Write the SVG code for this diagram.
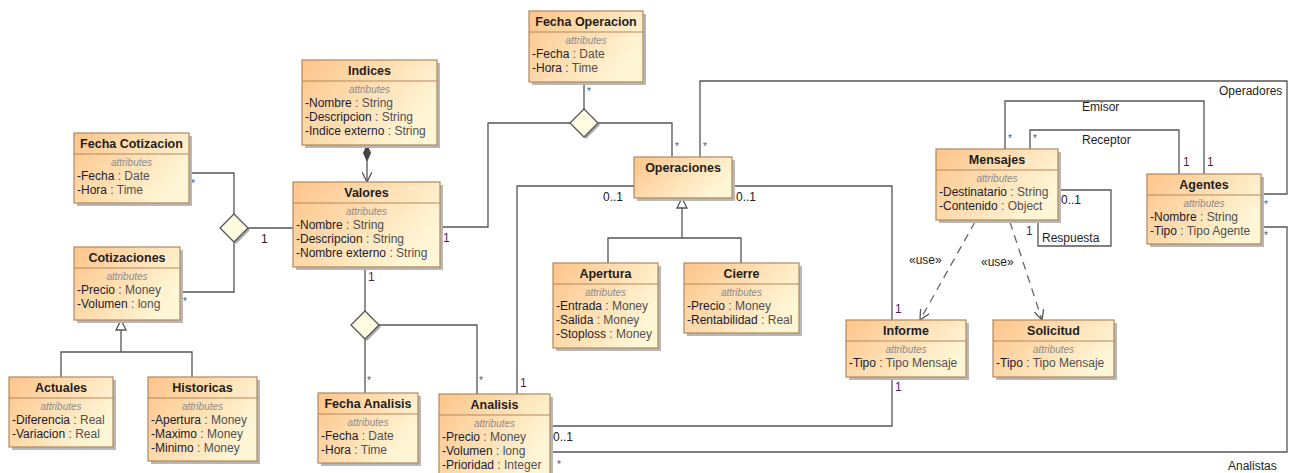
<svg xmlns="http://www.w3.org/2000/svg" width="1291" height="473" viewBox="0 0 1291 473">
  <defs>
    <linearGradient id="fill" x1="0" y1="0" x2="1" y2="0.5">
      <stop offset="0" stop-color="#fdc48a"/>
      <stop offset="1" stop-color="#fff6d6"/>
    </linearGradient>
    <marker id="open" viewBox="0 0 10 10" refX="10" refY="5" markerWidth="10" markerHeight="10" markerUnits="userSpaceOnUse" orient="auto">
      <path d="M0,0 L10,5 L0,10" fill="none" stroke="#555" stroke-width="1.3"/>
    </marker>
  </defs>
  <style>
    .bg { fill: #ffffff; }
    .shadow { fill: #b8b8b8; }
    .box { fill: url(#fill); stroke: #b3875c; stroke-width: 1.2; }
    .sep { stroke: #b3875c; stroke-width: 1.2; }
    .t { font-family: "Liberation Sans", Arial, sans-serif; font-size: 12.5px; font-weight: bold; fill: #1e1e1e; text-anchor: middle; }
    .st { font-family: "Liberation Sans", Arial, sans-serif; font-size: 10px; font-style: italic; fill: #8c8c8c; text-anchor: middle; }
    .a { font-family: "Liberation Sans", Arial, sans-serif; font-size: 12px; fill: #1c1c30; }
    .ty { fill: #505050; }
    .ln { fill: none; stroke: #555; stroke-width: 1.3; }
    .dash { fill: none; stroke: #666; stroke-width: 1.3; stroke-dasharray: 8 6; }
    .dia { fill: #fffbe0; stroke: #555; stroke-width: 1.3; }
    .dsh { fill: #aaaaaa; }
    .gen { fill: #ffffff; stroke: #555; stroke-width: 1.3; }
    .m { font-family: "Liberation Sans", Arial, sans-serif; font-size: 12px; fill: #222; }
    .mp { font-family: "Liberation Sans", Arial, sans-serif; font-size: 12px; fill: #5a1a5a; }
    .star { font-family: "Liberation Sans", Arial, sans-serif; font-size: 10px; fill: #3a5a8a; }
    .r { font-family: "Liberation Sans", Arial, sans-serif; font-size: 12px; fill: #1e1e1e; }
  </style>
  <rect class="bg" x="0" y="0" width="1291" height="473"/>

  <!-- connectors -->
  <g id="connectors">
    <!-- Cotizacion n-ary association -->
    <polyline class="ln" points="189,173 234,173 234,214"/>
    <polyline class="ln" points="180,292 234,292 234,242"/>
    <line class="ln" x1="248" y1="228" x2="293" y2="228"/>
    <polygon class="dsh" points="236,216 250,230 236,244 222,230"/>
    <polygon class="dia" points="234,214 248,228 234,242 220,228"/>
    <text class="star" x="191" y="187">*</text>
    <text class="star" x="183" y="305">*</text>
    <text class="m" x="261" y="243">1</text>

    <!-- Cotizaciones generalization -->
    <polyline class="ln" points="61,377 61,352 192,352 192,377"/>
    <line class="ln" x1="121" y1="352" x2="121" y2="330"/>
    <polygon class="gen" points="121,320 126,330 116,330"/>

    <!-- Indices composition Valores -->
    <polygon points="367,145 370.5,153 367,161 363.5,153" fill="#444" stroke="#444" stroke-width="1"/>
    <line class="ln" x1="367" y1="161" x2="367" y2="182" marker-end="url(#open)"/>

    <!-- Operacion n-ary association -->
    <polyline class="ln" points="440,227 488,227 488,123 570,123"/>
    <polyline class="ln" points="598,123 672,123 672,157"/>
    <line class="ln" x1="584" y1="82" x2="584" y2="109"/>
    <polygon class="dsh" points="586,111 600,125 586,139 572,125"/>
    <polygon class="dia" points="584,109 598,123 584,137 570,123"/>
    <text class="mp" x="443" y="242">1</text>
    <text class="star" x="587" y="95">*</text>
    <text class="star" x="675" y="150">*</text>
    <text class="star" x="703" y="150">*</text>

    <!-- Analisis n-ary association -->
    <line class="ln" x1="365" y1="267" x2="365" y2="311"/>
    <line class="ln" x1="365" y1="339" x2="365" y2="393"/>
    <polyline class="ln" points="379,325 477,325 477,394"/>
    <polygon class="dsh" points="367,313 381,327 367,341 353,327"/>
    <polygon class="dia" points="365,311 379,325 365,339 351,325"/>
    <text class="mp" x="368" y="281">1</text>
    <text class="star" x="367" y="384">*</text>
    <text class="star" x="479" y="384">*</text>

    <!-- Operaciones to Analisis / Informe -->
    <polyline class="ln" points="634,186 517,186 517,394"/>
    <polyline class="ln" points="732,186 892,186 892,320"/>
    <text class="m" x="603" y="201">0..1</text>
    <text class="m" x="736" y="201">0..1</text>
    <text class="mp" x="520" y="387">1</text>
    <text class="mp" x="895" y="313">1</text>

    <!-- Operaciones generalization -->
    <polyline class="ln" points="608,263 608,238 741,238 741,263"/>
    <line class="ln" x1="682" y1="238" x2="682" y2="208"/>
    <polygon class="gen" points="682,198 687,208 677,208"/>

    <!-- Informe to Analisis -->
    <polyline class="ln" points="892,377 892,426 550,426"/>
    <text class="mp" x="895" y="391">1</text>
    <text class="m" x="553" y="441">0..1</text>

    <!-- Operadores -->
    <polyline class="ln" points="700,157 700,81 1287,81 1287,194 1261,194"/>
    <text class="r" x="1219" y="95">Operadores</text>
    <text class="star" x="1264" y="208">*</text>

    <!-- Analistas -->
    <polyline class="ln" points="550,452 1287,452 1287,227 1261,227"/>
    <text class="r" x="1228" y="470">Analistas</text>
    <text class="star" x="557" y="468">*</text>
    <text class="star" x="1264" y="239">*</text>

    <!-- Emisor / Receptor -->
    <polyline class="ln" points="1005,149 1005,101 1204,101 1204,174"/>
    <polyline class="ln" points="1030,149 1030,130 1179,130 1179,174"/>
    <text class="r" x="1082" y="111">Emisor</text>
    <text class="r" x="1082" y="144">Receptor</text>
    <text class="star" x="1008" y="142">*</text>
    <text class="star" x="1033" y="142">*</text>
    <text class="mp" x="1183" y="166">1</text>
    <text class="mp" x="1207" y="166">1</text>

    <!-- Respuesta self association -->
    <polyline class="ln" points="1058,190 1111,190 1111,246 1038,246 1038,220"/>
    <text class="m" x="1061" y="204">0..1</text>
    <text class="mp" x="1026" y="235">1</text>
    <text class="r" x="1042" y="242">Respuesta</text>

    <!-- use dependencies -->
    <line class="dash" x1="975" y1="222" x2="920" y2="320" marker-end="url(#open)"/>
    <line class="dash" x1="1010" y1="222" x2="1042" y2="320" marker-end="url(#open)"/>
    <text class="r" x="909" y="264">«use»</text>
    <text class="r" x="981" y="266">«use»</text>
  </g>

  <!-- classes -->
  <g id="fecha-cotizacion">
    <rect class="shadow" x="77" y="136" width="115" height="70"/>
    <rect class="box" x="74" y="133" width="115" height="70"/>
    <line class="sep" x1="74" y1="154" x2="189" y2="154"/>
    <text class="t" x="131.5" y="148">Fecha Cotizacion</text>
    <text class="st" x="131.5" y="166">attributes</text>
    <text class="a" x="77" y="180">-Fecha <tspan class="ty">: Date</tspan></text>
    <text class="a" x="77" y="194">-Hora <tspan class="ty">: Time</tspan></text>
  </g>

  <g id="cotizaciones">
    <rect class="shadow" x="77" y="250" width="106" height="73"/>
    <rect class="box" x="74" y="247" width="106" height="73"/>
    <line class="sep" x1="74" y1="268" x2="180" y2="268"/>
    <text class="t" x="127" y="262">Cotizaciones</text>
    <text class="st" x="127" y="280">attributes</text>
    <text class="a" x="77" y="294">-Precio <tspan class="ty">: Money</tspan></text>
    <text class="a" x="77" y="308">-Volumen <tspan class="ty">: long</tspan></text>
  </g>

  <g id="actuales">
    <rect class="shadow" x="12" y="380" width="104" height="70"/>
    <rect class="box" x="9" y="377" width="104" height="70"/>
    <line class="sep" x1="9" y1="398" x2="113" y2="398"/>
    <text class="t" x="61" y="392">Actuales</text>
    <text class="st" x="61" y="410">attributes</text>
    <text class="a" x="12" y="424">-Diferencia <tspan class="ty">: Real</tspan></text>
    <text class="a" x="12" y="438">-Variacion <tspan class="ty">: Real</tspan></text>
  </g>

  <g id="historicas">
    <rect class="shadow" x="151" y="380" width="109" height="84"/>
    <rect class="box" x="148" y="377" width="109" height="84"/>
    <line class="sep" x1="148" y1="398" x2="257" y2="398"/>
    <text class="t" x="202.5" y="392">Historicas</text>
    <text class="st" x="202.5" y="410">attributes</text>
    <text class="a" x="151" y="424">-Apertura <tspan class="ty">: Money</tspan></text>
    <text class="a" x="151" y="438">-Maximo <tspan class="ty">: Money</tspan></text>
    <text class="a" x="151" y="452">-Minimo <tspan class="ty">: Money</tspan></text>
  </g>

  <g id="indices">
    <rect class="shadow" x="305" y="63" width="135" height="85"/>
    <rect class="box" x="302" y="60" width="135" height="85"/>
    <line class="sep" x1="302" y1="81" x2="437" y2="81"/>
    <text class="t" x="369.5" y="75">Indices</text>
    <text class="st" x="369.5" y="93">attributes</text>
    <text class="a" x="305" y="107">-Nombre <tspan class="ty">: String</tspan></text>
    <text class="a" x="305" y="121">-Descripcion <tspan class="ty">: String</tspan></text>
    <text class="a" x="305" y="135">-Indice externo <tspan class="ty">: String</tspan></text>
  </g>

  <g id="valores">
    <rect class="shadow" x="296" y="185" width="147" height="85"/>
    <rect class="box" x="293" y="182" width="147" height="85"/>
    <line class="sep" x1="293" y1="203" x2="440" y2="203"/>
    <text class="t" x="366.5" y="197">Valores</text>
    <text class="st" x="366.5" y="215">attributes</text>
    <text class="a" x="296" y="229">-Nombre <tspan class="ty">: String</tspan></text>
    <text class="a" x="296" y="243">-Descripcion <tspan class="ty">: String</tspan></text>
    <text class="a" x="296" y="257">-Nombre externo <tspan class="ty">: String</tspan></text>
  </g>

  <g id="fecha-analisis">
    <rect class="shadow" x="321" y="396" width="100" height="70"/>
    <rect class="box" x="318" y="393" width="100" height="70"/>
    <line class="sep" x1="318" y1="414" x2="418" y2="414"/>
    <text class="t" x="368" y="408">Fecha Analisis</text>
    <text class="st" x="368" y="426">attributes</text>
    <text class="a" x="321" y="440">-Fecha <tspan class="ty">: Date</tspan></text>
    <text class="a" x="321" y="454">-Hora <tspan class="ty">: Time</tspan></text>
  </g>

  <g id="analisis">
    <rect class="shadow" x="442" y="397" width="111" height="84"/>
    <rect class="box" x="439" y="394" width="111" height="84"/>
    <line class="sep" x1="439" y1="415" x2="550" y2="415"/>
    <text class="t" x="494.5" y="409">Analisis</text>
    <text class="st" x="494.5" y="427">attributes</text>
    <text class="a" x="442" y="441">-Precio <tspan class="ty">: Money</tspan></text>
    <text class="a" x="442" y="455">-Volumen <tspan class="ty">: long</tspan></text>
    <text class="a" x="442" y="469">-Prioridad <tspan class="ty">: Integer</tspan></text>
  </g>

  <g id="fecha-operacion">
    <rect class="shadow" x="532" y="14" width="114" height="71"/>
    <rect class="box" x="529" y="11" width="114" height="71"/>
    <line class="sep" x1="529" y1="32" x2="643" y2="32"/>
    <text class="t" x="586" y="26">Fecha Operacion</text>
    <text class="st" x="586" y="44">attributes</text>
    <text class="a" x="532" y="58">-Fecha <tspan class="ty">: Date</tspan></text>
    <text class="a" x="532" y="72">-Hora <tspan class="ty">: Time</tspan></text>
  </g>

  <g id="operaciones">
    <rect class="shadow" x="637" y="160" width="98" height="41"/>
    <rect class="box" x="634" y="157" width="98" height="41"/>
    <text class="t" x="683" y="172">Operaciones</text>
  </g>

  <g id="apertura">
    <rect class="shadow" x="556" y="266" width="105" height="85"/>
    <rect class="box" x="553" y="263" width="105" height="85"/>
    <line class="sep" x1="553" y1="284" x2="658" y2="284"/>
    <text class="t" x="605.5" y="278">Apertura</text>
    <text class="st" x="605.5" y="296">attributes</text>
    <text class="a" x="556" y="310">-Entrada <tspan class="ty">: Money</tspan></text>
    <text class="a" x="556" y="324">-Salida <tspan class="ty">: Money</tspan></text>
    <text class="a" x="556" y="338">-Stoploss <tspan class="ty">: Money</tspan></text>
  </g>

  <g id="cierre">
    <rect class="shadow" x="687" y="266" width="115" height="70"/>
    <rect class="box" x="684" y="263" width="115" height="70"/>
    <line class="sep" x1="684" y1="284" x2="799" y2="284"/>
    <text class="t" x="741.5" y="278">Cierre</text>
    <text class="st" x="741.5" y="296">attributes</text>
    <text class="a" x="687" y="310">-Precio <tspan class="ty">: Money</tspan></text>
    <text class="a" x="687" y="324">-Rentabilidad <tspan class="ty">: Real</tspan></text>
  </g>

  <g id="mensajes">
    <rect class="shadow" x="939" y="152" width="122" height="71"/>
    <rect class="box" x="936" y="149" width="122" height="71"/>
    <line class="sep" x1="936" y1="170" x2="1058" y2="170"/>
    <text class="t" x="997" y="164">Mensajes</text>
    <text class="st" x="997" y="182">attributes</text>
    <text class="a" x="939" y="196">-Destinatario <tspan class="ty">: String</tspan></text>
    <text class="a" x="939" y="210">-Contenido <tspan class="ty">: Object</tspan></text>
  </g>

  <g id="agentes">
    <rect class="shadow" x="1150" y="177" width="114" height="70"/>
    <rect class="box" x="1147" y="174" width="114" height="70"/>
    <line class="sep" x1="1147" y1="195" x2="1261" y2="195"/>
    <text class="t" x="1204" y="189">Agentes</text>
    <text class="st" x="1204" y="207">attributes</text>
    <text class="a" x="1150" y="221">-Nombre <tspan class="ty">: String</tspan></text>
    <text class="a" x="1150" y="235">-Tipo <tspan class="ty">: Tipo Agente</tspan></text>
  </g>

  <g id="informe">
    <rect class="shadow" x="849" y="323" width="120" height="57"/>
    <rect class="box" x="846" y="320" width="120" height="57"/>
    <line class="sep" x1="846" y1="341" x2="966" y2="341"/>
    <text class="t" x="906" y="335">Informe</text>
    <text class="st" x="906" y="353">attributes</text>
    <text class="a" x="849" y="367">-Tipo <tspan class="ty">: Tipo Mensaje</tspan></text>
  </g>

  <g id="solicitud">
    <rect class="shadow" x="996" y="323" width="121" height="57"/>
    <rect class="box" x="993" y="320" width="121" height="57"/>
    <line class="sep" x1="993" y1="341" x2="1114" y2="341"/>
    <text class="t" x="1053.5" y="335">Solicitud</text>
    <text class="st" x="1053.5" y="353">attributes</text>
    <text class="a" x="996" y="367">-Tipo <tspan class="ty">: Tipo Mensaje</tspan></text>
  </g>
</svg>
